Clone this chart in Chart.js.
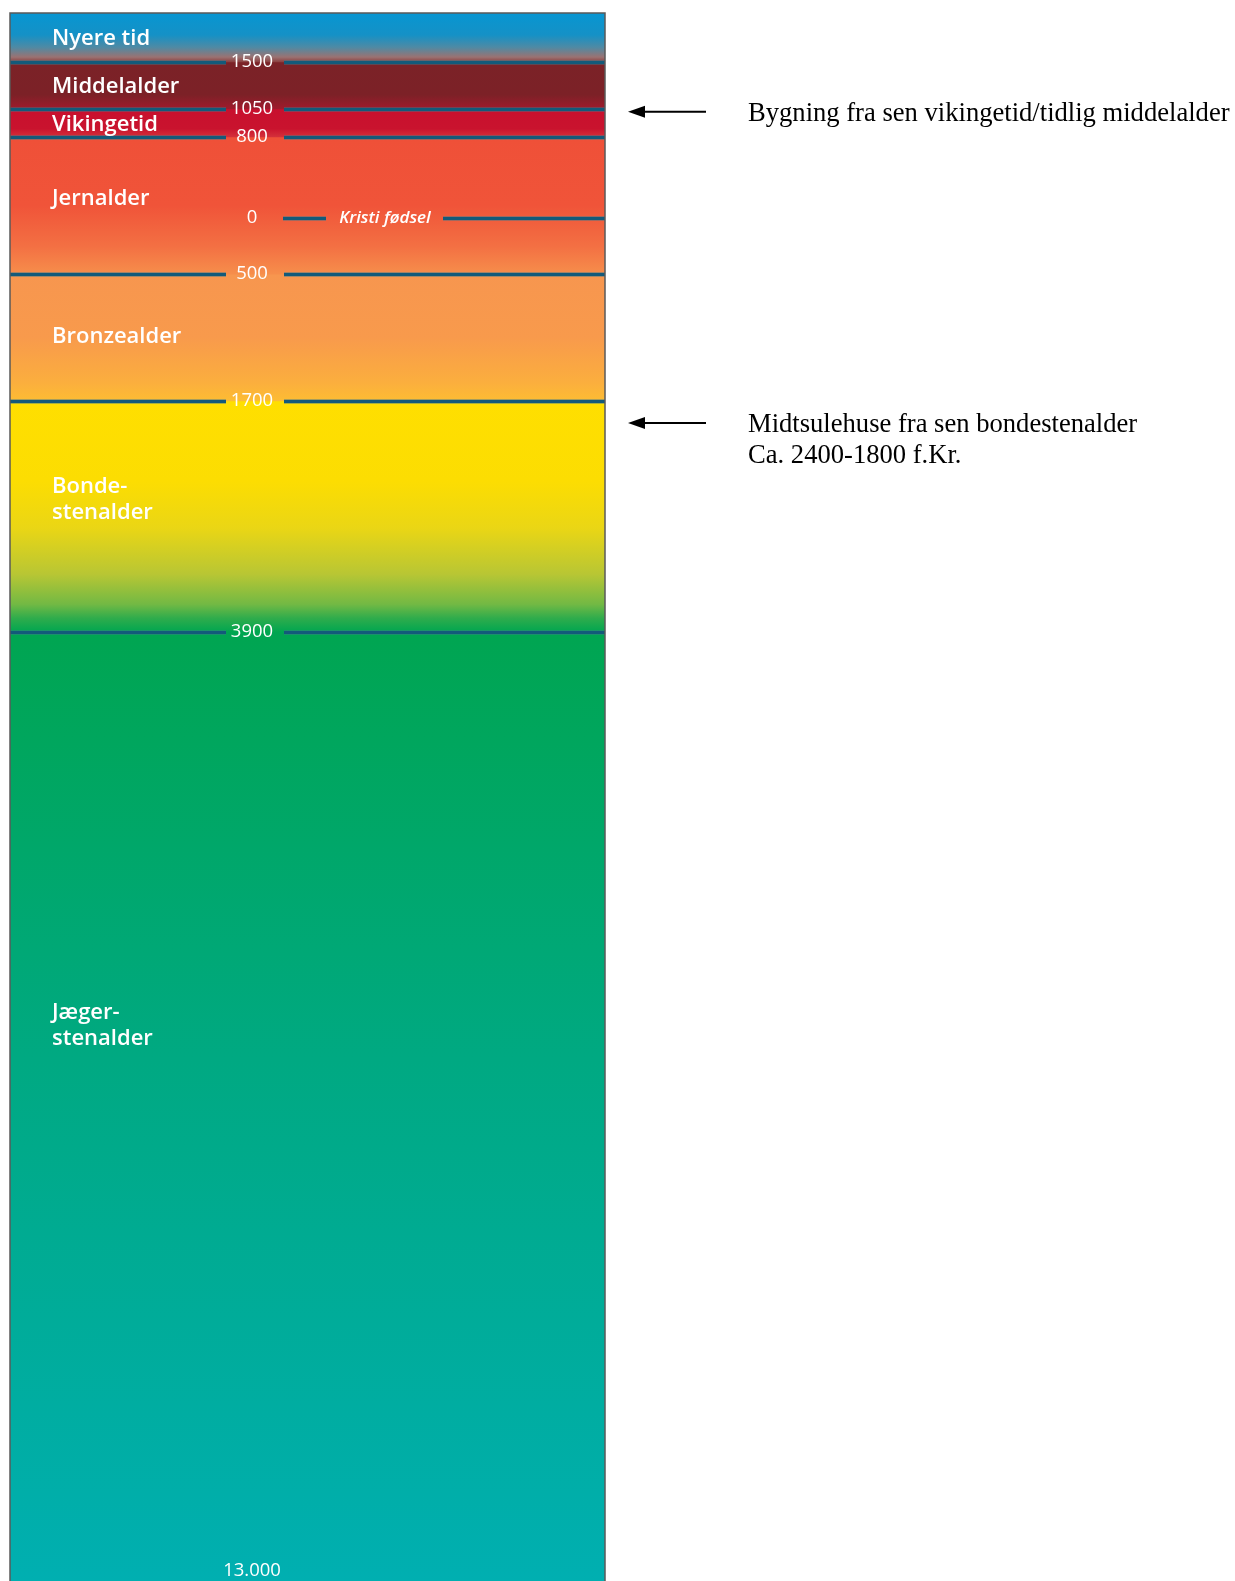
<!DOCTYPE html>
<html>
<head>
<meta charset="utf-8">
<script src="https://cdn.jsdelivr.net/npm/chart.js@4.4.1/dist/chart.umd.min.js"></script>
<style>
	body { margin: 0; background: #ffffff; }
	#wrap { width: 1235px; height: 1581px; position: relative; }
</style>
</head>
<body>
<div id="wrap"><canvas id="myChart"></canvas></div>
<script>
// Periods (years, negative = f.Kr.)
const periodNames = ["Nyere tid", "Middelalder", "Vikingetid", "Jernalder", "Bronzealder", ["Bonde-", "stenalder"], ["Jæger-", "stenalder"]];
const periodStart = [1500, 1050, 800, -500, -1700, -3900, -13000];
const periodEnd = [2000, 1500, 1050, 800, -500, -1700, -3900];

// Boundary lines and their labels
const boundaryYears = [1500, 1050, 800, 0, -500, -1700, -3900, -13000];
const boundaryLabels = ["1500", "1050", "800", "0", "500", "1700", "3900", "13.000"];
const christYear = 0;
const christLabel = "Kristi fødsel";

// Notes on the right
const noteYears = [1025, -1910];
const noteTexts = [["Bygning fra sen vikingetid/tidlig middelalder"], ["Midtsulehuse fra sen bondestenalder", "Ca. 2400-1800 f.Kr."]];

// Piecewise scale: where each year sits, as fraction of the height
const breakYears = [2000, 1500, 1050, 800, 0, -500, -1700, -3900, -13000];
const breakPos = [0, 0.03125, 0.0612, 0.0791, 0.1307, 0.1665, 0.2474, 0.3948, 1];

// gradient stops for each period (top -> bottom)
const periodStops = [
	[[0, "#0796d2"], [0.45, "#1591c6"], [0.7, "#4f8aa4"], [0.9, "#9a7272"], [1, "#8c4040"]],
	[[0, "#7b2227"], [0.7, "#7c2127"], [1, "#a01a2c"]],
	[[0, "#c8102e"], [0.7, "#c9132e"], [1, "#d4303a"]],
	[[0, "#ef5038"], [0.5, "#f05439"], [0.8, "#f37043"], [1, "#f68e4b"]],
	[[0, "#f7964f"], [0.5, "#f89a4c"], [0.85, "#fbae3e"], [1, "#fdbc33"]],
	[[0, "#ffdf00"], [0.35, "#fcdd02"], [0.55, "#ead615"], [0.75, "#b8c634"], [0.88, "#72b944"], [0.94, "#2fac4c"], [1, "#00a650"]],
	[[0, "#00a551"], [0.45, "#00a982"], [1, "#00afb1"]]
];
const labelShift = [1, 1, 2, -7, -1, -17, -81];

class TimelineScale extends Chart.LinearScale {
	getPixelForValue(value) {
		let frac = 1;
		for (let i = 0; i < breakYears.length - 1; i++) {
			if (value <= breakYears[i] && value >= breakYears[i + 1]) {
				const t = (breakYears[i] - value) / (breakYears[i] - breakYears[i + 1]);
				frac = breakPos[i] + t * (breakPos[i + 1] - breakPos[i]);
				break;
			}
		}
		if (value > breakYears[0]) frac = 0;
		return this.top + frac * (this.bottom - this.top);
	}
	getValueForPixel(pixel) {
		const frac = (pixel - this.top) / (this.bottom - this.top);
		for (let i = 0; i < breakPos.length - 1; i++) {
			if (frac >= breakPos[i] && frac <= breakPos[i + 1]) {
				const t = (frac - breakPos[i]) / (breakPos[i + 1] - breakPos[i]);
				return breakYears[i] - t * (breakYears[i] - breakYears[i + 1]);
			}
		}
		return breakYears[breakYears.length - 1];
	}
}
TimelineScale.id = "timeline";
TimelineScale.defaults = Chart.LinearScale.defaults;
Chart.register(TimelineScale);

function periodGradient(i) {
	return function (context) {
		const chart = context.chart;
		if (!chart.chartArea) return periodStops[i][0][1];
		const y = chart.scales.y;
		const top = y.getPixelForValue(periodEnd[i]);
		const bottom = y.getPixelForValue(periodStart[i]);
		const g = chart.ctx.createLinearGradient(0, top, 0, bottom);
		periodStops[i].forEach((s) => g.addColorStop(s[0], s[1]));
		return g;
	};
}

const lineColor = "#135a7a";
const gapLeft = 226, gapRight = 284;

const timelinePlugin = {
	id: "timeline",
	afterDatasetsDraw(chart) {
		const ctx = chart.ctx;
		const area = chart.chartArea;
		const y = chart.scales.y;
		const labelX = area.left + 242;
		ctx.save();

		// boundary lines
		boundaryYears.forEach((yr, i) => {
			if (i === boundaryYears.length - 1) return;
			const py = Math.round(y.getPixelForValue(yr)) + 0.5;
			const segs = yr === christYear
				? [[area.left + 273, area.left + 316], [area.left + 433, area.right]]
				: [[area.left, gapLeft], [gapRight, area.right]];
			segs.forEach((s) => {
				ctx.strokeStyle = "rgba(60,120,140,0.45)";
				ctx.lineWidth = 5;
				ctx.beginPath(); ctx.moveTo(s[0], py); ctx.lineTo(s[1], py); ctx.stroke();
				ctx.strokeStyle = lineColor;
				ctx.lineWidth = 3;
				ctx.beginPath(); ctx.moveTo(s[0], py); ctx.lineTo(s[1], py); ctx.stroke();
			});
		});

		// boundary labels
		ctx.fillStyle = "#ffffff";
		ctx.textAlign = "center";
		ctx.textBaseline = "middle";
		ctx.font = "500 18.5px 'Open Sans'";
		boundaryYears.forEach((yr, i) => {
			let py = y.getPixelForValue(yr);
			if (i === boundaryYears.length - 1) py = area.bottom - 10;
			ctx.fillText(boundaryLabels[i], labelX, py);
		});
		ctx.font = "italic 600 17px 'Open Sans'";
		ctx.fillText(christLabel, area.left + 375, y.getPixelForValue(christYear));

		// period names
		ctx.textAlign = "left";
		ctx.font = "600 22px 'Open Sans'";
		periodNames.forEach((name, i) => {
			const lines = Array.isArray(name) ? name : [name];
			const mid = (y.getPixelForValue(periodStart[i]) + y.getPixelForValue(periodEnd[i])) / 2 + labelShift[i];
			lines.forEach((ln, k) => {
				ctx.fillText(ln, area.left + 42, mid + (k - (lines.length - 1) / 2) * 26);
			});
		});

		// frame
		ctx.strokeStyle = "#5a5a5a";
		ctx.lineWidth = 1.5;
		ctx.beginPath();
		ctx.moveTo(area.left, area.bottom + 2);
		ctx.lineTo(area.left, area.top);
		ctx.lineTo(area.right, area.top);
		ctx.lineTo(area.right, area.bottom + 2);
		ctx.stroke();

		// notes with arrows
		ctx.fillStyle = "#000000";
		ctx.strokeStyle = "#000000";
		ctx.textBaseline = "alphabetic";
		ctx.font = "26.6px 'Liberation Serif'";
		noteYears.forEach((yr, i) => {
			const py = y.getPixelForValue(yr);
			ctx.lineWidth = 2;
			ctx.beginPath(); ctx.moveTo(642, py); ctx.lineTo(706, py); ctx.stroke();
			ctx.beginPath();
			ctx.moveTo(628, py); ctx.lineTo(645, py - 6); ctx.lineTo(645, py + 6); ctx.closePath();
			ctx.fill();
			noteTexts[i].forEach((t, k) => {
				ctx.fillText(t, 748, py + 9 + k * 31);
			});
		});
		ctx.restore();
	},
};

const ctx = document.getElementById("myChart").getContext("2d");
const myChart = new Chart(ctx, {
	type: "bar",
	data: {
		labels: ["Tid"],
		datasets: periodNames.map((name, i) => ({
			label: Array.isArray(name) ? name.join("") : name,
			data: [[periodStart[i], periodEnd[i]]],
			backgroundColor: periodGradient(i),
			borderWidth: 0,
			grouped: false,
			barPercentage: 1,
			categoryPercentage: 1,
		})),
	},
	options: {
		responsive: true,
		maintainAspectRatio: false,
		animation: false,
		layout: {
			padding: { left: 10, top: 13, right: 630, bottom: 0 },
		},
		plugins: {
			legend: { display: false },
			tooltip: { enabled: false },
		},
		scales: {
			x: { display: false },
			y: { type: "timeline", display: false, min: -13000, max: 2000 },
		},
	},
	plugins: [timelinePlugin],
});
</script>
</body>
</html>
